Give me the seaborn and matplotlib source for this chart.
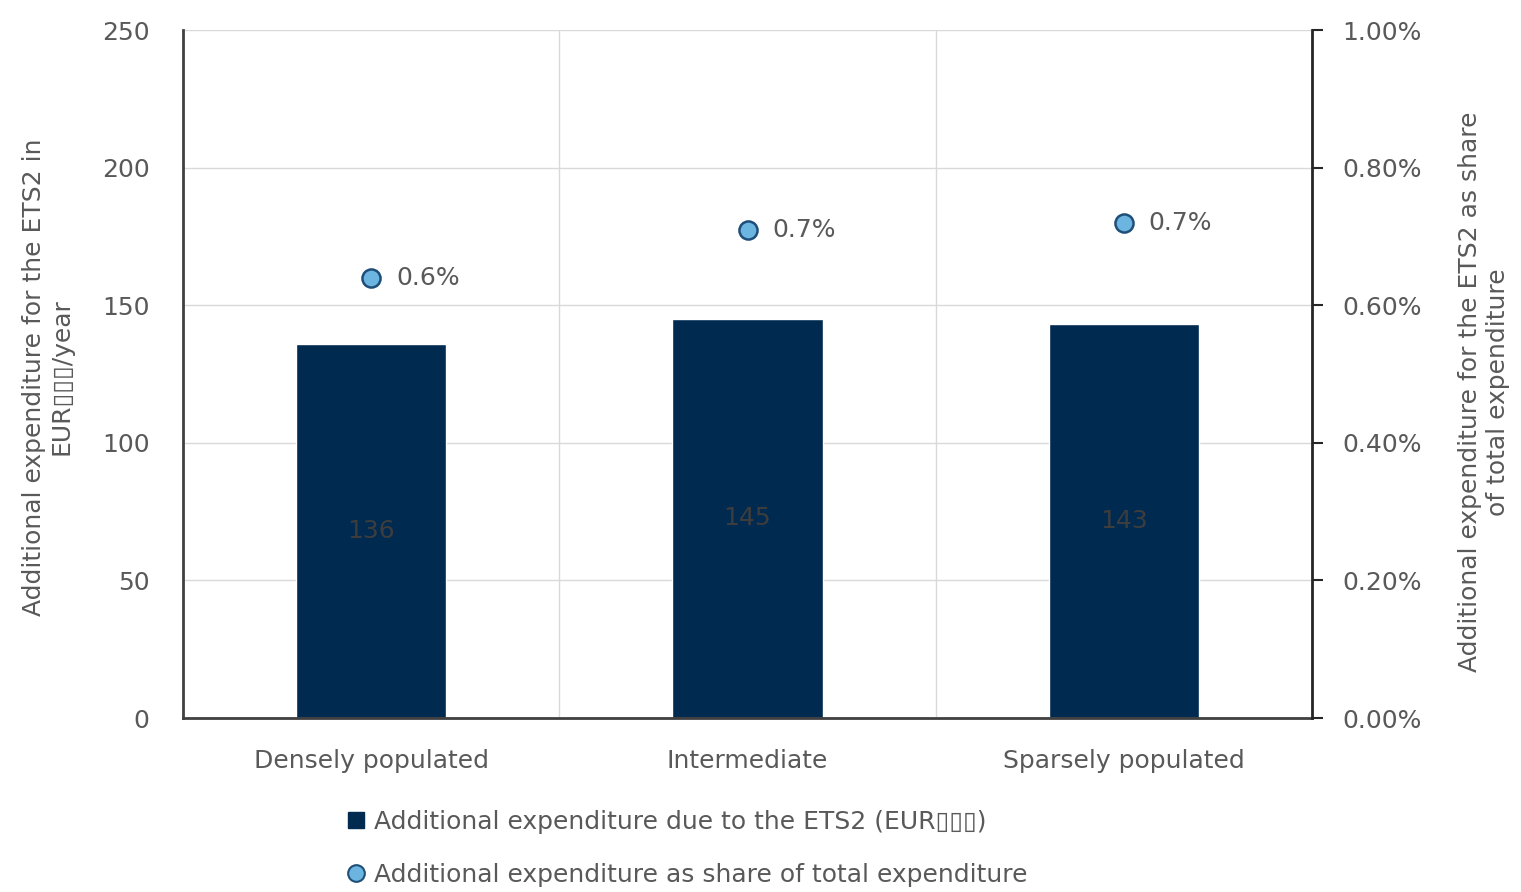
import numpy as np
import pandas as pd
import matplotlib
matplotlib.use("Agg")
import matplotlib.pyplot as plt
import seaborn as sns
from matplotlib.lines import Line2D

# Data
categories = ["Densely populated", "Intermediate", "Sparsely populated"]
expenditure_eur = [136, 145, 143]
share_pct = [0.64, 0.71, 0.72]
left_ticks = [0, 50, 100, 150, 200, 250]
right_ticks = [0.0, 0.2, 0.4, 0.6, 0.8, 1.0]

bar_label = "Additional expenditure due to the ETS2 (EUR\u25af\u25af\u25af)"
point_label = "Additional expenditure as share of total expenditure"
left_title = "Additional expenditure for the ETS2 in\nEUR\u25af\u25af\u25af/year"
right_title = "Additional expenditure for the ETS2 as share\nof total expenditure"

NAVY = "#002a50"
LIGHT = "#6cb5e1"
EDGE = "#1f4e79"
TEXT = "#595959"
GRID = "#d9d9d9"
FS = 18

sns.set_theme(style="white")
plt.rcParams["font.family"] = ["DejaVu Sans"]

W, H = 1521, 892
fig = plt.figure(figsize=(W / 100, H / 100), dpi=100)
ax = fig.add_axes([183 / W, 1 - 718 / H, (1312 - 183) / W, (718 - 30) / H])

df = pd.DataFrame({"category": categories, "eur": expenditure_eur})
sns.barplot(data=df, x="category", y="eur", color=NAVY, saturation=1,
            width=0.4, ax=ax, zorder=2)
ax.bar_label(ax.containers[0], labels=[f"{v:d}" for v in expenditure_eur],
             label_type="center", color="#3d3d3d", fontsize=FS)

ax.set_xlim(-0.5, len(categories) - 0.5)
ax.set_ylim(0, 250)
ax.set_yticks(left_ticks)
ax.set_xticks(np.arange(len(categories)) + 0.5, minor=True)
ax.grid(axis="y", which="major", color=GRID, lw=1, zorder=0)
ax.grid(axis="x", which="minor", color=GRID, lw=1, zorder=0)
ax.grid(axis="x", which="major", visible=False)
ax.set_axisbelow(True)
ax.set_xlabel("")
ax.set_ylabel("")
ax.tick_params(axis="y", length=0, pad=24, labelsize=FS, labelcolor=TEXT)
ax.tick_params(axis="x", which="both", length=0, pad=22, labelsize=FS, labelcolor=TEXT)
for side in ["top", "right"]:
    ax.spines[side].set_visible(False)
for side in ["left", "bottom"]:
    ax.spines[side].set_color("#404040")
    ax.spines[side].set_linewidth(2)

# Share of total expenditure on the secondary axis
ax2 = ax.twinx()
sns.scatterplot(x=np.arange(len(categories)), y=share_pct, ax=ax2, s=170,
                color=LIGHT, edgecolor=EDGE, linewidth=1.8, zorder=5)
for i, v in enumerate(share_pct):
    ax2.annotate(f"{v:.1f}%", (i, v), xytext=(18, 0), textcoords="offset points",
                 va="center", ha="left", fontsize=FS, color=TEXT)
ax2.set_ylim(0, 1.0)
ax2.set_yticks(right_ticks)
ax2.set_yticklabels([f"{t:.2f}%" for t in right_ticks])
ax2.tick_params(axis="y", direction="out", length=8, width=1.5, color="#262626",
                pad=14, labelsize=FS, labelcolor=TEXT)
for side in ["top", "left", "bottom"]:
    ax2.spines[side].set_visible(False)
ax2.spines["right"].set_color("#262626")
ax2.spines["right"].set_linewidth(2)

# Axis titles
fig.text(48 / W, 1 - 377 / H, left_title, rotation=90, ha="center", va="center",
         multialignment="center", fontsize=FS, color=TEXT)
fig.text(1484 / W, 1 - 392 / H, right_title, rotation=90, ha="center", va="center",
         multialignment="center", fontsize=FS, color=TEXT)

# Legend
handles = [
    Line2D([], [], marker="s", linestyle="none", markersize=11,
           markerfacecolor=NAVY, markeredgecolor=NAVY),
    Line2D([], [], marker="o", linestyle="none", markersize=12,
           markerfacecolor=LIGHT, markeredgecolor=EDGE, markeredgewidth=1.5),
]
fig.legend(handles, [bar_label, point_label], loc="upper left",
           bbox_to_anchor=(346 / W, 1 - 810 / H), frameon=False,
           fontsize=FS, labelcolor=TEXT, handlelength=0.8, handletextpad=0.3,
           labelspacing=1.15, borderpad=0, borderaxespad=0)

fig.savefig("out.png", dpi=100, facecolor="white")
